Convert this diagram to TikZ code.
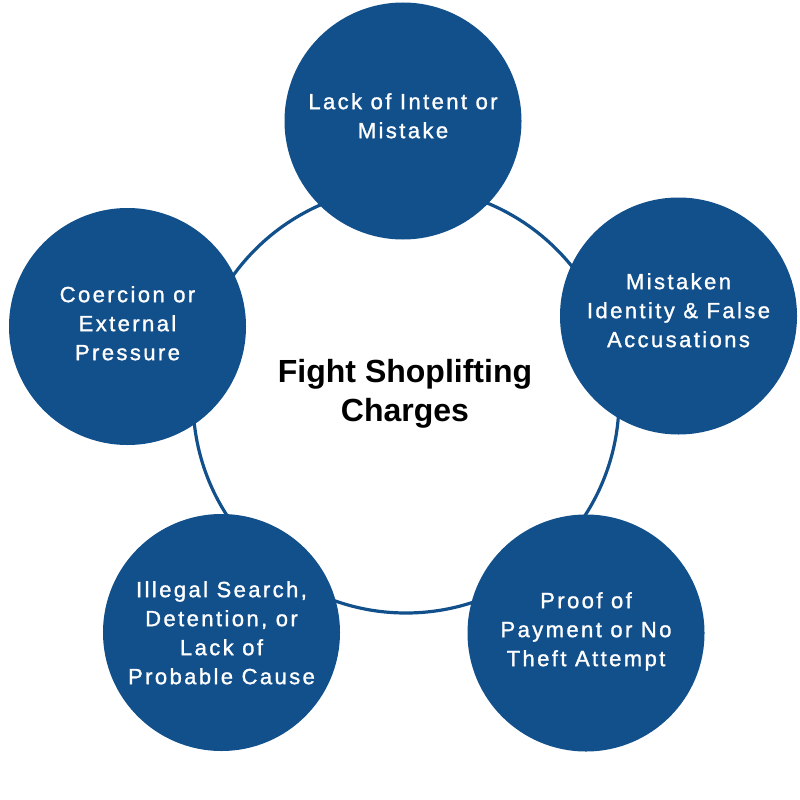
\documentclass[tikz,border=0pt]{standalone}
\usepackage{fontspec}
\setmainfont{Liberation Sans}
\newfontfamily\satfont[LetterSpace=11, FakeBold=1.3]{Liberation Sans}
\definecolor{navy}{RGB}{18,80,140}
\begin{document}
\begin{tikzpicture}[x=1pt,y=-1pt,
  sat/.style={circle, fill=navy, minimum size=237pt, inner sep=0pt},
  sattext/.style={anchor=north, inner sep=0pt, align=center, text=white,
    font=\satfont\fontsize{22}{29}\selectfont},
  ringstyle/.style={circle, draw=navy, line width=3.2pt, minimum size=426pt, inner sep=0pt},
  titletext/.style={anchor=north, inner sep=0pt, align=center, text=black,
    font=\bfseries\fontsize{32}{39}\selectfont}]
\useasboundingbox (0,0) rectangle (800,800);
\node[ringstyle] (ring) at (406,400) {};
\node[sat] (c1) at (403,121) {};
\node[sat] (c2) at (678.5,316) {};
\node[sat] (c3) at (586,633) {};
\node[sat] (c4) at (221.5,632.5) {};
\node[sat] (c5) at (127.5,326.5) {};
\node[sattext] (t1) at (403,93) {Lack of Intent or\\Mistake};
\node[sattext] (t2) at (678.5,273) {Mistaken\\Identity \& False\\Accusations};
\node[sattext] (t3) at (586,592) {Proof of\\Payment or No\\Theft Attempt};
\node[sattext] (t4) at (221.5,581) {Illegal Search,\\Detention, or\\Lack of\\Probable Cause};
\node[sattext] (t5) at (127.5,286) {Coercion or\\External\\Pressure};
\node[titletext] (title) at (405,359) {Fight Shoplifting\\Charges};
\end{tikzpicture}
\end{document}
